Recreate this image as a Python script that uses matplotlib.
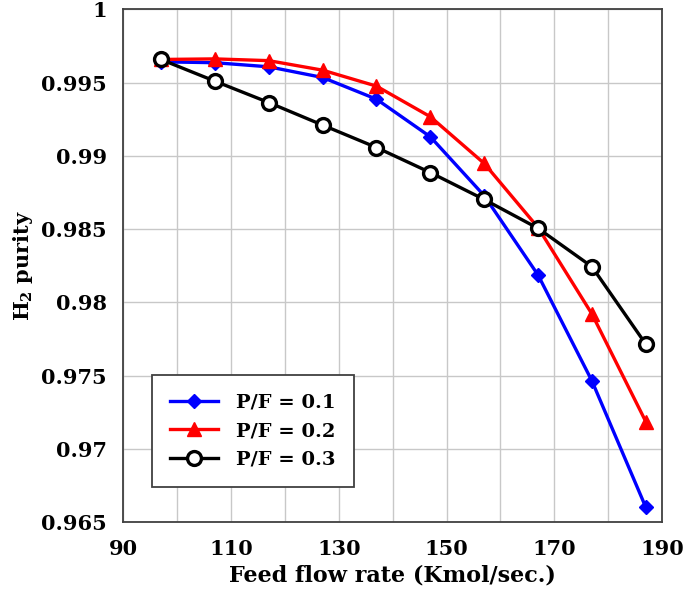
import matplotlib
matplotlib.use("Agg")
import matplotlib.pyplot as plt
from matplotlib.ticker import FuncFormatter, MultipleLocator, FixedLocator

plt.rcParams['font.family'] = ['DejaVu Serif']
plt.rcParams['font.weight'] = 'bold'
plt.rcParams['mathtext.fontset'] = 'dejavuserif'

feed = [97, 107, 117, 127, 137, 147, 157, 167, 177, 187]
pf01 = [0.99642, 0.99636, 0.99608, 0.99535, 0.99387, 0.9913, 0.98728, 0.98186, 0.97463, 0.96600]
pf02 = [0.99658, 0.99662, 0.99650, 0.99585, 0.99476, 0.99267, 0.98948, 0.98510, 0.97920, 0.97185]
pf03 = [0.99658, 0.99510, 0.99364, 0.99210, 0.99057, 0.98886, 0.98702, 0.98505, 0.98243, 0.97714]
labels = ["P/F = 0.1", "P/F = 0.2", "P/F = 0.3"]
xticks_major = [90, 110, 130, 150, 170, 190]
xticks_minor = [100, 120, 140, 160, 180]

fig = plt.figure(figsize=(6.85, 5.94), dpi=100)
ax = fig.add_axes([0.180, 0.1212, 0.7864, 0.863])

ax.plot(feed, pf01, color='#0000ff', lw=2.4, marker='D', ms=7.5, mfc='#0000ff', mec='#0000ff', label=labels[0], zorder=3)
ax.plot(feed, pf02, color='#ff0000', lw=2.4, marker='^', ms=10.5, mfc='#ff0000', mec='#ff0000', label=labels[1], zorder=3)
ax.plot(feed, pf03, color='black', lw=2.4, marker='o', ms=10, mfc='white', mec='black', mew=2.4, label=labels[2], zorder=4)

ax.set_xlim(90, 190)
ax.set_ylim(0.965, 1.0)
ax.xaxis.set_major_locator(FixedLocator(xticks_major))
ax.xaxis.set_minor_locator(FixedLocator(xticks_minor))
ax.yaxis.set_major_locator(MultipleLocator(0.005))
ax.yaxis.set_major_formatter(FuncFormatter(lambda v, p: ('%.3f' % v).rstrip('0').rstrip('.')))
ax.grid(True, which='both', color='#c8c8c8', lw=1.0)
ax.set_axisbelow(True)
ax.tick_params(which='both', length=0, labelsize=15, pad=12)
for lab in ax.get_xticklabels() + ax.get_yticklabels():
    lab.set_fontweight('bold')
for s in ax.spines.values():
    s.set_color('#404040')
    s.set_linewidth(1.3)

ax.set_xlabel('Feed flow rate (Kmol/sec.)', fontsize=16, fontweight='bold', labelpad=4)
ax.set_ylabel(r'H$_\mathbf{2}$ purity', fontsize=15, fontweight='bold', labelpad=4)

leg = ax.legend(loc='lower left', bbox_to_anchor=(0.0526, 0.069), fancybox=False, framealpha=1,
                edgecolor='#404040', prop={'size': 14, 'weight': 'bold'}, handlelength=2.5,
                borderpad=0.93, labelspacing=0.54, handletextpad=0.9, borderaxespad=0)
leg.get_frame().set_linewidth(1.3)

fig.savefig('out.png', dpi=100)
